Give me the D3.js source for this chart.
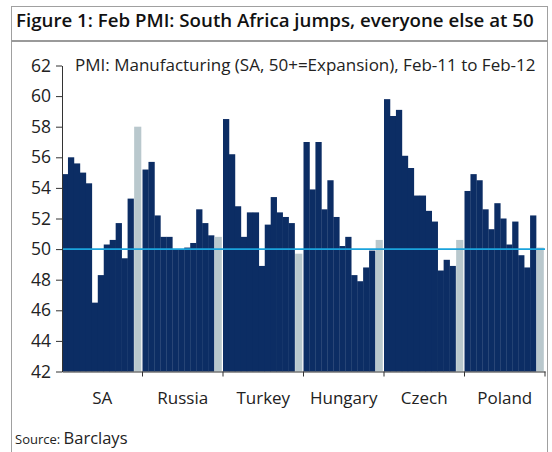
<!DOCTYPE html>
<html>
<head>
<meta charset="utf-8">
<script src="https://cdn.jsdelivr.net/npm/d3@7"></script>
<style>
  body { margin: 0; background: #fff; }
  svg { display: block; font-family: "Open Sans", sans-serif; }
</style>
</head>
<body>
<div id="root"></div>
<script>
// DATA: PMI Manufacturing, Feb-11 .. Jan-12 (dark) and Feb-12 (grey, last)
let countries = ['SA', 'Russia', 'Turkey', 'Hungary', 'Czech', 'Poland'];
let saPmi      = [54.9, 56.0, 55.6, 55.0, 54.3, 46.5, 48.3, 50.3, 50.6, 51.7, 49.4, 53.3, 58.0];
let russiaPmi  = [55.2, 55.7, 52.2, 50.8, 50.8, 50.0, 50.0, 50.1, 50.4, 52.6, 51.7, 50.9, 50.8];
let turkeyPmi  = [58.5, 56.2, 52.8, 50.8, 52.4, 52.4, 48.9, 51.6, 53.4, 52.4, 52.1, 51.7, 49.7];
let hungaryPmi = [57.0, 53.9, 57.0, 52.6, 54.5, 52.1, 50.2, 50.8, 48.3, 47.9, 48.8, 49.9, 50.6];
let czechPmi   = [59.8, 58.7, 59.1, 56.1, 55.3, 53.5, 53.5, 52.5, 51.8, 48.6, 49.3, 48.9, 50.6];
let polandPmi  = [53.8, 54.9, 54.5, 52.6, 51.3, 53.0, 52.0, 50.3, 51.8, 49.6, 48.8, 52.2, 50.1];
let pmiSeries = [saPmi, russiaPmi, turkeyPmi, hungaryPmi, czechPmi, polandPmi];
let yTicks = [42, 44, 46, 48, 50, 52, 54, 56, 58, 60, 62];
let threshold = 50;

let title = 'Figure 1: Feb PMI: South Africa jumps, everyone else at 50';
let subtitle = 'PMI: Manufacturing (SA, 50+=Expansion), Feb-11 to Feb-12';

// DIMENSIONS
let width = 552,
  height = 452;
let plot = { left: 62, right: 545, top: 65.5, bottom: 371.5 };

let svg = d3.select('#root')
  .append('svg')
  .attr('width', width)
  .attr('height', height);

// frame
svg.append('rect')
  .attr('x', 11.5).attr('y', 6.5)
  .attr('width', 536).attr('height', 460)
  .attr('fill', 'none')
  .attr('stroke', '#a0a0a0')
  .attr('stroke-width', 1);

svg.append('line')
  .attr('x1', 11).attr('x2', 548)
  .attr('y1', 41).attr('y2', 41)
  .attr('stroke', '#9a9a9a')
  .attr('stroke-width', 2);

svg.append('text')
  .attr('x', 16).attr('y', 27)
  .style('font-size', '18.7px')
  .style('font-weight', 600)
  .style('fill', '#111')
  .text(title);

svg.append('text')
  .attr('x', 75).attr('y', 71)
  .style('font-size', '17px')
  .style('fill', '#222')
  .text(subtitle);

// scales
let xScale = d3.scaleBand()
  .domain(countries)
  .range([plot.left, plot.right])
  .paddingInner(0).paddingOuter(0);

let slot = d3.scaleLinear()
  .domain([0, 13.5])
  .range([0, xScale.bandwidth()]);

let yScale = d3.scaleLinear()
  .domain([42, 62])
  .range([plot.bottom, plot.top]);

let bars = [];
countries.forEach((c, ci) => {
  pmiSeries[ci].forEach((v, i) => {
    bars.push({ country: c, i: i, value: v, latest: i === pmiSeries[ci].length - 1 });
  });
});

// bars
svg.append('g')
  .selectAll('rect')
  .data(bars)
  .enter()
  .append('rect')
  .attr('x', d => d.latest ? xScale(d.country) + slot(d.i) + 0.6 : xScale(d.country) + slot(d.i))
  .attr('width', d => d.latest ? slot(1.5) - 1.8 : slot(1) + 0.3)
  .attr('y', d => yScale(d.value))
  .attr('height', d => yScale(42) - yScale(d.value))
  .attr('fill', d => d.latest ? '#b9c8cd' : '#0c2d64');

// 50 line
svg.append('line')
  .attr('x1', plot.left).attr('x2', plot.right)
  .attr('y1', yScale(threshold)).attr('y2', yScale(threshold))
  .attr('stroke', '#1aa3dc')
  .attr('stroke-width', 1.6);

// y axis
let yAxis = svg.append('g')
  .attr('transform', `translate(${plot.left}, 0)`)
  .call(d3.axisLeft(yScale).tickValues(yTicks).tickSize(6).tickSizeOuter(0).tickPadding(5))
  .style('font-size', '17.5px');
yAxis.selectAll('text').style('fill', '#222').style('font-family', '"Open Sans", sans-serif');
yAxis.selectAll('line, path').attr('stroke', '#333');

// x axis
let xAxis = svg.append('g')
  .attr('transform', `translate(0, ${plot.bottom})`)
  .call(d3.axisBottom(xScale).tickSize(0).tickPadding(20))
  .style('font-size', '17px');
xAxis.selectAll('text').style('fill', '#222').style('font-family', '"Open Sans", sans-serif');
xAxis.select('.domain').attr('stroke', '#333');

svg.append('g')
  .selectAll('line')
  .data(countries)
  .enter()
  .append('line')
  .attr('x1', d => xScale(d) + xScale.bandwidth())
  .attr('x2', d => xScale(d) + xScale.bandwidth())
  .attr('y1', plot.bottom)
  .attr('y2', plot.bottom + 5)
  .attr('stroke', '#333');

// source
let src = svg.append('text')
  .attr('x', 15).attr('y', 444)
  .style('fill', '#222');
src.append('tspan').style('font-size', '13px').text('Source: ');
src.append('tspan').style('font-size', '16.5px').text('Barclays');
</script>
</body>
</html>
